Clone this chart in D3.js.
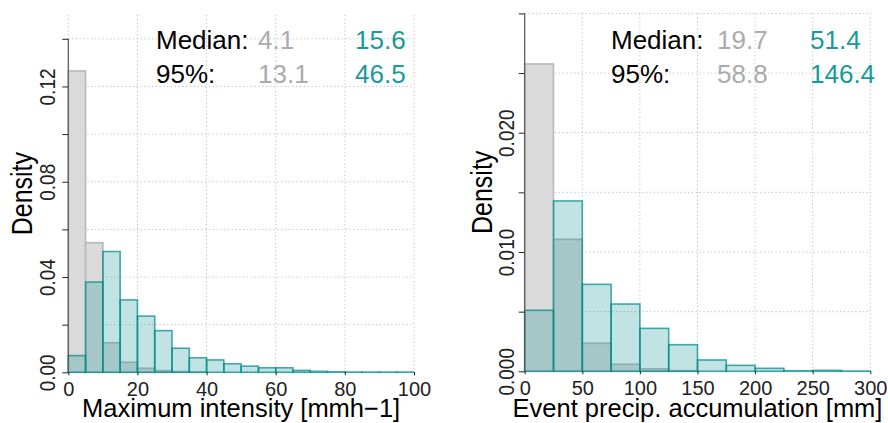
<!DOCTYPE html>
<html>
<head>
<meta charset="utf-8">
<script src="https://cdn.jsdelivr.net/npm/d3@7"></script>
<style>
  body { margin: 0; background: #fff; }
  svg { display: block; font-family: "Liberation Sans", Arial, sans-serif; }
</style>
</head>
<body>
<script>
// ---- data ----
// left: maximum intensity, bins of 5 mm/h
var intBreaks = d3.range(0, 105, 5);
var intGrey = [0.1265, 0.0544, 0.0124, 0.0042, 0.0017, 0.0007, 0.0003, 0.0001];
var intTeal = [0.0070, 0.0379, 0.0507, 0.0304, 0.0236, 0.0175, 0.0101, 0.0061,
               0.0052, 0.0036, 0.0026, 0.0019, 0.0019, 0.0008, 0.0004, 0.0002,
               0.0001, 0.0001, 0.0001, 0.0001];
var intXTicks = [0, 20, 40, 60, 80, 100];
var intYTicks = [0, 0.02, 0.04, 0.06, 0.08, 0.10, 0.12, 0.14];
var intYLabels = [0, 0.04, 0.08, 0.12];
var intStats = { median: ["4.1", "15.6"], p95: ["13.1", "46.5"] };

// right: event accumulation, bins of 25 mm
var accBreaks = d3.range(0, 325, 25);
var accGrey = [0.02576, 0.01106, 0.00235, 0.00059, 0.0002, 0.00005];
var accTeal = [0.00511, 0.01428, 0.00729, 0.00564, 0.0036, 0.00223,
               0.00095, 0.0005, 0.00025, 0.00005, 0.00008, 0.00002];
var accXTicks = [0, 50, 100, 150, 200, 250, 300];
var accYTicks = [0, 0.005, 0.010, 0.015, 0.020, 0.025, 0.030];
var accYLabels = [0, 0.010, 0.020];
var accStats = { median: ["19.7", "51.4"], p95: ["58.8", "146.4"] };

var svg = d3.select("body").append("svg")
    .attr("width", 888)
    .attr("height", 423);

var greyFill = "#dadada", greyLine = "#b8b8b8",
    tealFill = "rgba(0,139,139,0.24)", tealLine = "rgba(0,139,139,0.72)",
    gridCol = "#bdbdbd";

function panel(opt) {
  var x = d3.scaleLinear().domain(opt.xDomain).range([opt.x0, opt.x1]);
  var y = d3.scaleLinear().domain(opt.yDomain).range([opt.yb, opt.yt]);
  var g = svg.append("g");

  // grid
  g.selectAll(".vg").data(opt.xTicks).enter().append("line")
      .attr("x1", d => x(d)).attr("x2", d => x(d))
      .attr("y1", y.range()[1]).attr("y2", y(0))
      .attr("stroke", gridCol).attr("stroke-dasharray", "1.2,2.6");
  g.selectAll(".hg").data(opt.yTicks).enter().append("line")
      .attr("x1", x.range()[0]).attr("x2", x.range()[1])
      .attr("y1", d => y(d)).attr("y2", d => y(d))
      .attr("stroke", gridCol).attr("stroke-dasharray", "1.2,2.6");

  function bars(vals, fill, stroke) {
    g.append("g").selectAll("rect").data(vals).enter().append("rect")
        .attr("x", (d, i) => x(opt.breaks[i]))
        .attr("width", (d, i) => x(opt.breaks[i + 1]) - x(opt.breaks[i]))
        .attr("y", d => y(d))
        .attr("height", d => y(0) - y(d))
        .attr("fill", fill)
        .attr("stroke", stroke)
        .attr("stroke-width", 1.6);
  }
  bars(opt.grey, greyFill, greyLine);
  bars(opt.teal, tealFill, tealLine);

  // y axis
  var ya = g.append("g").attr("transform", "translate(" + opt.x0 + ",0)")
      .call(d3.axisLeft(y).tickValues(opt.yTicks).tickSize(6).tickSizeOuter(0)
        .tickFormat(d => opt.yLabels.some(v => Math.abs(v - d) < 1e-9) ? opt.yFmt(d) : ""));
  ya.select(".domain").remove();
  ya.selectAll("line").attr("stroke", "#222");
  ya.selectAll("text")
      .attr("x", null).attr("dy", null)
      .attr("text-anchor", "middle")
      .attr("font-size", 19)
      .attr("fill", "#222")
      .attr("transform", "translate(" + opt.yLabOff + ",0) scale(1.15,1) rotate(-90)");
  g.append("line")
      .attr("x1", opt.x0).attr("x2", opt.x0)
      .attr("y1", y(0)).attr("y2", y(opt.yTicks[opt.yTicks.length - 1]))
      .attr("stroke", "#555").attr("stroke-width", 1.2);

  // x axis
  var xa = g.append("g").attr("transform", "translate(0," + y(0) + ")")
      .call(d3.axisBottom(x).tickValues(opt.xTicks).tickSize(3).tickSizeOuter(0));
  xa.select(".domain").remove();
  xa.selectAll("line").attr("stroke", "#222");
  xa.selectAll("text")
      .attr("y", 23.5).attr("dy", null)
      .attr("font-size", 20)
      .attr("fill", "#222");

  // titles
  g.append("text")
      .attr("x", (opt.x0 + opt.x1) / 2).attr("y", 417)
      .attr("text-anchor", "middle")
      .attr("font-size", 25.5)
      .text(opt.xTitle);
  g.append("text")
      .attr("text-anchor", "middle")
      .attr("font-size", 25)
      .attr("transform", "translate(" + opt.yTitleX + "," + (y(0) + y.range()[1]) / 2 + ") scale(1.15,1) rotate(-90)")
      .text("Density");

  // stats
  var rows = [["Median:", opt.stats.median, 49], ["95%:", opt.stats.p95, 83]];
  rows.forEach(function(r) {
    g.append("text").attr("x", opt.sx[0]).attr("y", r[2]).attr("font-size", 26)
        .attr("fill", "#000").text(r[0]);
    g.append("text").attr("x", opt.sx[1]).attr("y", r[2]).attr("font-size", 26)
        .attr("fill", "#ababab").text(r[1][0]);
    g.append("text").attr("x", opt.sx[2]).attr("y", r[2]).attr("font-size", 26)
        .attr("fill", "#169a9a").text(r[1][1]);
  });
}

panel({
  x0: 68.3, x1: 414, yb: 372.3, yt: 15,
  xDomain: [0, 100], yDomain: [0, 0.15],
  breaks: intBreaks, grey: intGrey, teal: intTeal,
  xTicks: intXTicks, yTicks: intYTicks, yLabels: intYLabels,
  yFmt: d3.format(".2f"), yLabOff: -13, yTitleX: 32,
  xTitle: "Maximum intensity [mmh\u22121]",
  stats: intStats, sx: [156, 258, 355]
});

panel({
  x0: 524.7, x1: 870.3, yb: 371.3, yt: 13.4,
  xDomain: [0, 300], yDomain: [0, 0.03],
  breaks: accBreaks, grey: accGrey, teal: accTeal,
  xTicks: accXTicks, yTicks: accYTicks, yLabels: accYLabels,
  yFmt: d3.format(".3f"), yLabOff: -11, yTitleX: 492,
  xTitle: "Event precip. accumulation [mm]",
  stats: accStats, sx: [611, 717, 810]
});
</script>
</body>
</html>
